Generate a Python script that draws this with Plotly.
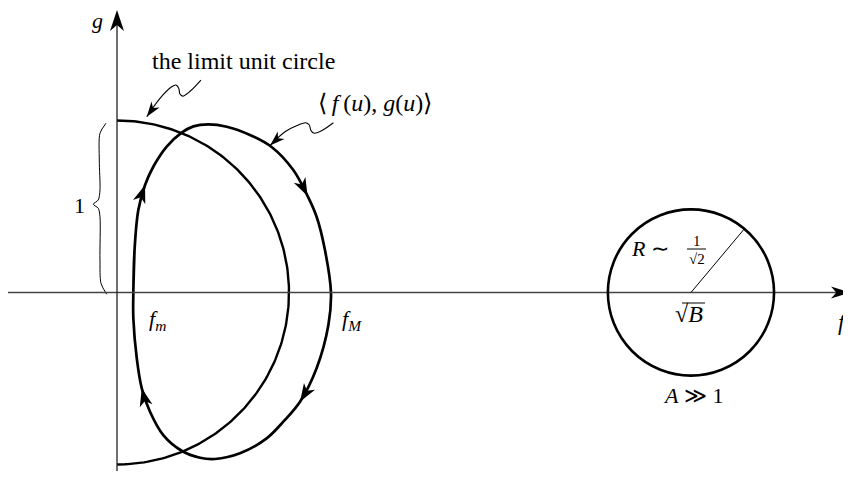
import numpy as np
import plotly.graph_objects as go

# picture geometry: where (0, 0) sits and how many pixels one unit takes
W, H = 851, 479
OX, OY = 117, 292.5
UNIT = 172
PAGE_MARGIN = 8  # the browser's default body margin shifts the plot

# limit cycle <f(u), g(u)>, read clockwise starting at f_m
CYCLE_F = [0.095, 0.102, 0.124, 0.163, 0.211, 0.289, 0.376, 0.444, 0.531, 0.638,
           0.773, 0.899, 1.025, 1.108, 1.161, 1.209, 1.244, 1.229, 1.161, 1.064,
           0.967, 0.870, 0.715, 0.570, 0.483, 0.376, 0.269, 0.192, 0.144, 0.115, 0.095]
CYCLE_G = [0.0, 0.247, 0.480, 0.625, 0.731, 0.848, 0.929, 0.966, 0.978, 0.964,
           0.916, 0.846, 0.712, 0.561, 0.439, 0.247, 0.0, -0.189, -0.439, -0.635,
           -0.751, -0.848, -0.935, -0.968, -0.961, -0.920, -0.829, -0.693, -0.557, -0.383, -0.150]
CYCLE_ARROWS = [3, 13, 19, 28]

# the limit unit circle (right half only)
UNIT_R = 1.0

# the circle for A >> 1 (drawn size, not to scale)
CIRCLE_F0 = 3.337
CIRCLE_R = 0.483
RADIUS_DEG = 50

# curly brace marking the length 1
BRACE_F = [-0.064, -0.099, -0.103, -0.099, -0.109, -0.138, -0.109, -0.099, -0.099, -0.093, -0.060]
BRACE_G = [0.984, 0.926, 0.770, 0.596, 0.538, 0.513, 0.490, 0.441, 0.189, 0.053, -0.010]

# wavy pointers
PTR1_F = [0.488, 0.428, 0.382, 0.366, 0.359, 0.343, 0.318, 0.250, 0.173]
PTR1_G = [1.235, 1.173, 1.142, 1.154, 1.187, 1.206, 1.196, 1.129, 1.022]
PTR2_F = [1.258, 1.190, 1.147, 1.128, 1.118, 1.097, 1.054, 0.977, 0.890]
PTR2_G = [0.987, 0.941, 0.926, 0.941, 0.974, 0.987, 0.974, 0.935, 0.855]


def fx(p):
    return (p - OX) / UNIT


def gy(p):
    return (OY - p) / UNIT


def stealth(tx, ty, dx, dy, length, width):
    n = np.hypot(dx, dy)
    ux, uy = dx / n, dy / n
    L = length / UNIT
    hw = width / 2 / UNIT
    bx, by = tx - L * ux, ty - L * uy
    kx, ky = tx - 0.72 * L * ux, ty - 0.72 * L * uy
    nx, ny = -uy, ux
    path = (f"M{tx},{ty} L{bx + hw * nx},{by + hw * ny} L{kx},{ky} "
            f"L{bx - hw * nx},{by - hw * ny} Z")
    return dict(type="path", path=path, xref="x", yref="y",
                fillcolor="black", line=dict(width=0), layer="above")


fig = go.Figure()

# unit circle (right half)
th = np.linspace(np.pi / 2, -np.pi / 2, 200)
fig.add_trace(go.Scatter(x=UNIT_R * np.cos(th), y=UNIT_R * np.sin(th), mode="lines",
                         line=dict(color="black", width=2.4), hoverinfo="skip"))

# limit cycle, wrapped so the spline closes smoothly
cf = CYCLE_F + CYCLE_F[:2]
cg = CYCLE_G + CYCLE_G[:2]
fig.add_trace(go.Scatter(x=cf, y=cg, mode="lines",
                         line=dict(color="black", width=2.7, shape="spline", smoothing=1),
                         hoverinfo="skip"))

# brace and pointers
fig.add_trace(go.Scatter(x=BRACE_F, y=BRACE_G, mode="lines",
                         line=dict(color="black", width=1, shape="spline", smoothing=0.8),
                         hoverinfo="skip"))
for pf, pg in [(PTR1_F, PTR1_G), (PTR2_F, PTR2_G)]:
    fig.add_trace(go.Scatter(x=pf, y=pg, mode="lines",
                             line=dict(color="black", width=1.1, shape="spline", smoothing=1),
                             hoverinfo="skip"))

shapes = []
# axes
shapes.append(dict(type="line", xref="x", yref="y", x0=fx(8), y0=0, x1=fx(846), y1=0,
                   line=dict(color="#444", width=1.3)))
shapes.append(dict(type="line", xref="x", yref="y", x0=0, y0=gy(490), x1=0, y1=gy(14),
                   line=dict(color="#222", width=1.3)))
shapes.append(stealth(fx(850), 0, 1, 0, 19, 12))
shapes.append(stealth(0, gy(10), 0, 1, 21, 14))

# arrows along the cycle
for i in CYCLE_ARROWS:
    shapes.append(stealth(CYCLE_F[i], CYCLE_G[i],
                          CYCLE_F[i + 1] - CYCLE_F[i - 1], CYCLE_G[i + 1] - CYCLE_G[i - 1], 18, 13))
# pointer arrowheads
for pf, pg in [(PTR1_F, PTR1_G), (PTR2_F, PTR2_G)]:
    shapes.append(stealth(pf[-1], pg[-1], pf[-1] - pf[-2], pg[-1] - pg[-2], 15, 10))

# circle A >> 1 and its radius
shapes.append(dict(type="circle", xref="x", yref="y",
                   x0=CIRCLE_F0 - CIRCLE_R, x1=CIRCLE_F0 + CIRCLE_R,
                   y0=-CIRCLE_R, y1=CIRCLE_R, line=dict(color="black", width=2.6)))
a = np.radians(RADIUS_DEG)
shapes.append(dict(type="line", xref="x", yref="y", x0=CIRCLE_F0, y0=0,
                   x1=CIRCLE_F0 + CIRCLE_R * np.cos(a), y1=CIRCLE_R * np.sin(a),
                   line=dict(color="black", width=1)))
# fraction bar and overline of sqrt(B)
shapes.append(dict(type="line", xref="x", yref="y", x0=fx(687), x1=fx(706), y0=gy(249), y1=gy(249),
                   line=dict(color="black", width=1)))
shapes.append(dict(type="line", xref="x", yref="y", x0=fx(682), x1=fx(705), y0=gy(303), y1=gy(303),
                   line=dict(color="black", width=1)))

SERIF = "Liberation Serif"
TH = "\u2009"


def label(text, x, y, size):
    return dict(text=text, x=fx(x), y=gy(y), xref="x", yref="y", showarrow=False,
                xanchor="center", yanchor="middle",
                font=dict(family=SERIF, size=size, color="black"))


annotations = [
    label("<i>g</i>", 97, 20, 22),
    label("the limit unit circle", 243, 61, 24),
    label("⟨" + TH + "<i>f</i>" + TH + "(<i>u</i>), <i>g</i>(<i>u</i>)⟩", 375, 103, 24),
    label("1", 79, 205, 22),
    label("<i>f<sub>m</sub></i>", 157, 320, 22),
    label("<i>f<sub>M</sub></i>", 352, 320, 22),
    label("<i>R</i> ∼", 650, 248, 22),
    label("1", 697, 241, 15),
    label("√2", 697, 259, 15),
    label("√<i>B</i>", 689, 314, 24),
    label("<i>A</i> ≫ 1", 693, 395, 22),
    label("<i>f</i>", 843, 322, 23),
]

# the page adds its margin on every side, so the figure is made smaller
# than the window to keep it free of scrolling
fig.update_layout(
    width=W - PAGE_MARGIN, height=H - 2 * PAGE_MARGIN, margin=dict(l=0, r=0, t=0, b=0),
    paper_bgcolor="white", plot_bgcolor="white", showlegend=False,
    xaxis=dict(range=[fx(PAGE_MARGIN), fx(W)], visible=False, fixedrange=True),
    yaxis=dict(range=[gy(H - PAGE_MARGIN), gy(PAGE_MARGIN)], visible=False, fixedrange=True),
    shapes=shapes, annotations=annotations,
)

fig.write_html("out.html")
